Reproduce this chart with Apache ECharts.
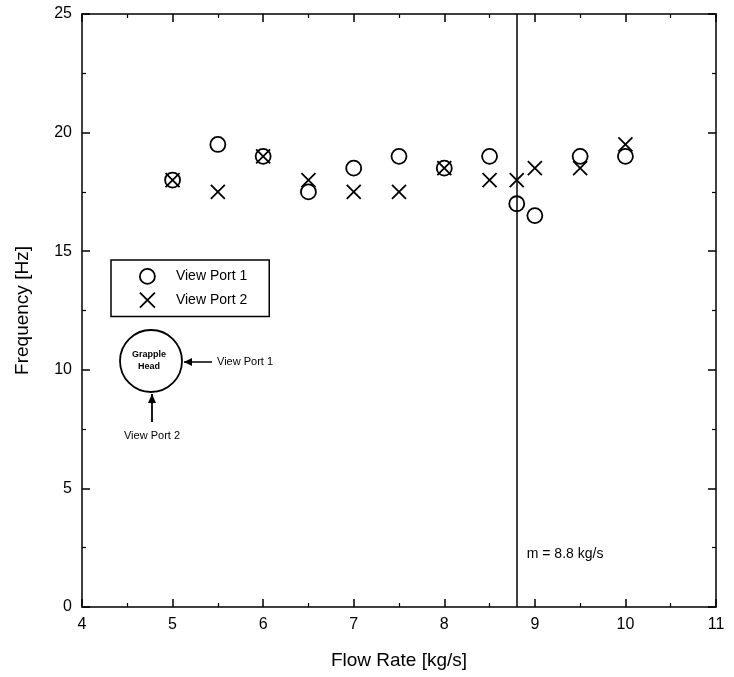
<!DOCTYPE html>
<html>
<head>
<meta charset="utf-8">
<script src="https://cdn.jsdelivr.net/npm/echarts@6/dist/echarts.min.js"></script>
<style>
  html, body { margin: 0; padding: 0; background: #fff; }
  #chart { width: 734px; height: 677px; }
</style>
</head>
<body>
<div id="chart"></div>
<script>
// Flow rates [kg/s] at which the frequency was measured
const flowRates = [5.0, 5.5, 6.0, 6.5, 7.0, 7.5, 8.0, 8.5, 8.8, 9.0, 9.5, 10.0];
// Frequency [Hz] seen through each view port
const viewPort1 = [18.0, 19.5, 19.0, 17.5, 18.5, 19.0, 18.5, 19.0, 17.0, 16.5, 19.0, 19.0];
const viewPort2 = [18.0, 17.5, 19.0, 18.0, 17.5, 17.5, 18.5, 18.0, 18.0, 18.5, 18.5, 19.5];
// Threshold flow rate marked by the vertical line
const thresholdFlow = 8.8;
const thresholdLabel = 'm = 8.8 kg/s';

const FONT = '"Liberation Sans", Arial, sans-serif';
const CROSS = 'path://M0,0L10,10M10,0L0,10';

const pairs = (xs, ys) => xs.map((x, i) => [x, ys[i]]);

const chart = echarts.init(document.getElementById('chart'), null, { renderer: 'canvas' });

function axisCommon(showLabel) {
  return {
    axisLine: { show: true, onZero: false, lineStyle: { color: '#000', width: 1.5 } },
    axisTick: { show: true, inside: true, length: 8, lineStyle: { color: '#000', width: 1.5 } },
    minorTick: { show: true, splitNumber: 2, length: 4, lineStyle: { color: '#000', width: 1.2 } },
    splitLine: { show: false },
    axisLabel: { show: showLabel, color: '#000', fontFamily: FONT, fontSize: 16, margin: 10 }
  };
}

const option = {
  backgroundColor: '#fff',
  animation: false,
  grid: { left: 82, right: 18, top: 14, bottom: 70, containLabel: false },
  xAxis: [
    Object.assign({
      type: 'value', min: 4, max: 11, interval: 1, position: 'bottom',
      name: 'Flow Rate [kg/s]', nameLocation: 'middle', nameGap: 44,
      nameTextStyle: { color: '#000', fontFamily: FONT, fontSize: 19 }
    }, axisCommon(true)),
    Object.assign({ type: 'value', min: 4, max: 11, interval: 1, position: 'top' }, axisCommon(false))
  ],
  yAxis: [
    Object.assign({
      type: 'value', min: 0, max: 25, interval: 5, position: 'left',
      name: 'Frequency [Hz]', nameLocation: 'middle', nameGap: 50,
      nameTextStyle: { color: '#000', fontFamily: FONT, fontSize: 19 }
    }, axisCommon(true)),
    Object.assign({ type: 'value', min: 0, max: 25, interval: 5, position: 'right' }, axisCommon(false))
  ],
  legend: {
    left: 111, top: 260,
    orient: 'vertical',
    backgroundColor: '#fff',
    borderColor: '#000', borderWidth: 1.5,
    padding: [8, 22, 8, 28],
    itemGap: 7,
    itemWidth: 15, itemHeight: 15,
    textStyle: { color: '#000', fontFamily: FONT, fontSize: 14, padding: [0, 0, 0, 16] },
    data: [
      { name: 'View Port 1', icon: 'circle', itemStyle: { color: 'transparent', borderColor: '#000', borderWidth: 1.8 } },
      { name: 'View Port 2', icon: CROSS, itemStyle: { color: 'transparent', borderColor: '#000', borderWidth: 1.8 } }
    ]
  },
  series: [
    {
      name: 'View Port 1', type: 'scatter', xAxisIndex: 0, yAxisIndex: 0,
      symbol: 'circle', symbolSize: 15,
      itemStyle: { color: 'transparent', borderColor: '#000', borderWidth: 1.8, opacity: 1 },
      data: pairs(flowRates, viewPort1),
      z: 3,
      markLine: {
        silent: true, symbol: 'none', animation: false,
        lineStyle: { color: '#000', width: 1.5, type: 'solid' },
        label: { show: false },
        data: [{ xAxis: thresholdFlow }]
      }
    },
    {
      name: 'View Port 2', type: 'scatter', xAxisIndex: 0, yAxisIndex: 0,
      symbol: CROSS, symbolSize: 14, symbolKeepAspect: true,
      itemStyle: { color: 'transparent', borderColor: '#000', borderWidth: 1.8, opacity: 1 },
      data: pairs(flowRates, viewPort2),
      z: 3
    }
  ]
};
chart.setOption(option);

// Threshold label placed just right of the vertical line
const labelPos = chart.convertToPixel({ xAxisIndex: 0, yAxisIndex: 0 }, [thresholdFlow, 2.2]);

// Sketch of the grapple head with the two viewing directions
const cx = 151, cy = 361, r = 31;
chart.setOption({
  graphic: [
    {
      type: 'text', left: labelPos[0] + 10, top: labelPos[1] - 8,
      style: { text: thresholdLabel, fill: '#000', font: '14px ' + FONT }
    },
    {
      type: 'circle', shape: { cx: cx, cy: cy, r: r },
      style: { fill: '#fff', stroke: '#000', lineWidth: 1.8 }
    },
    {
      type: 'text', x: cx - 2, y: cy - 6,
      style: { text: 'Grapple', fill: '#000', font: 'bold 9px ' + FONT, align: 'center', verticalAlign: 'middle' }
    },
    {
      type: 'text', x: cx - 2, y: cy + 6,
      style: { text: 'Head', fill: '#000', font: 'bold 9px ' + FONT, align: 'center', verticalAlign: 'middle' }
    },
    // arrow from the right (View Port 1)
    {
      type: 'line', shape: { x1: cx + r + 2, y1: cy + 1, x2: cx + r + 30, y2: cy + 1 },
      style: { stroke: '#000', lineWidth: 1.5 }
    },
    {
      type: 'polygon', shape: { points: [[cx + r + 2, cy + 1], [cx + r + 10, cy - 3], [cx + r + 10, cy + 5]] },
      style: { fill: '#000' }
    },
    {
      type: 'text', x: cx + r + 35, y: cy + 1,
      style: { text: 'View Port 1', fill: '#000', font: '11px ' + FONT, verticalAlign: 'middle' }
    },
    // arrow from below (View Port 2)
    {
      type: 'line', shape: { x1: cx + 1, y1: cy + r + 2, x2: cx + 1, y2: cy + r + 30 },
      style: { stroke: '#000', lineWidth: 1.8 }
    },
    {
      type: 'polygon', shape: { points: [[cx + 1, cy + r + 2], [cx - 3, cy + r + 11], [cx + 5, cy + r + 11]] },
      style: { fill: '#000' }
    },
    {
      type: 'text', x: cx + 1, y: cy + r + 44,
      style: { text: 'View Port 2', fill: '#000', font: '11px ' + FONT, align: 'center', verticalAlign: 'middle' }
    }
  ]
});
</script>
</body>
</html>
